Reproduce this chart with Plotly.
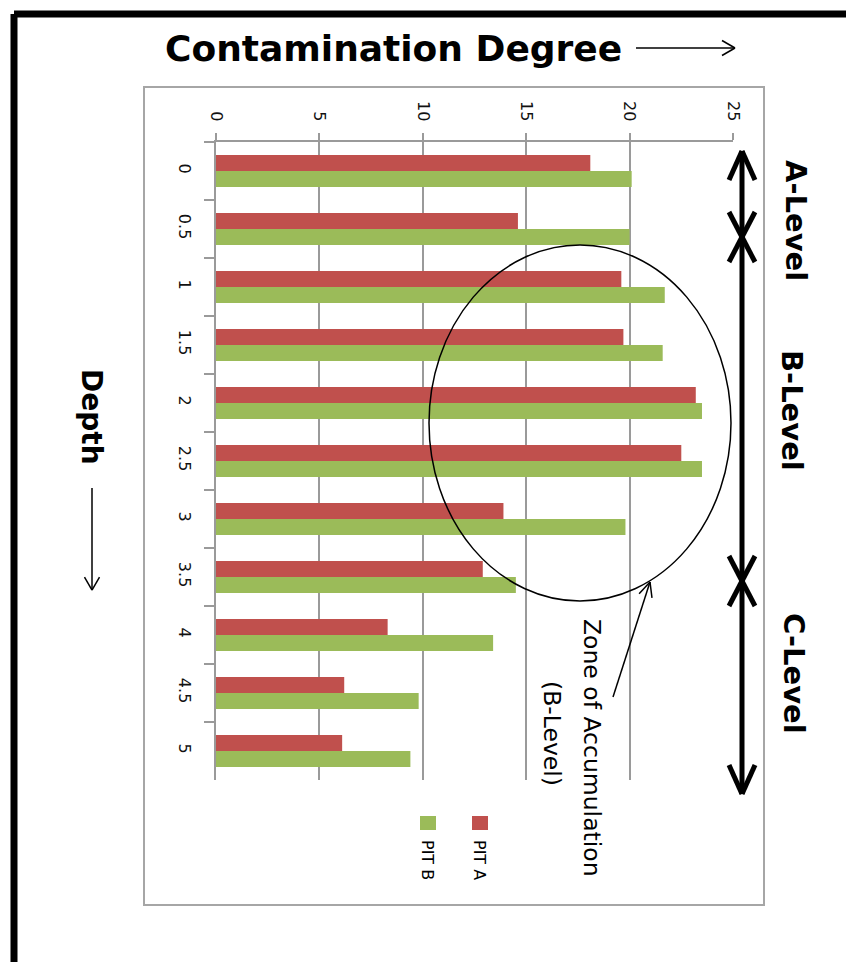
import math
import plotly.graph_objects as go

# Depth categories and contamination degree for the two pits
depth = ["0", "0.5", "1", "1.5", "2", "2.5", "3", "3.5", "4", "4.5", "5"]
pit_a = [18.1, 14.6, 19.6, 19.7, 23.2, 22.5, 13.9, 12.9, 8.3, 6.2, 6.1]
pit_b = [20.1, 20.0, 21.7, 21.6, 23.5, 23.5, 19.8, 14.5, 13.4, 9.8, 9.4]
series_names = ["PIT A", "PIT B"]
series_colors = ["#C0504D", "#9BBB59"]
value_ticks = [0, 5, 10, 15, 20, 25]

W, H = 846, 962
L, R, T, B = 216, 113, 142, 182
PW, PH = W - L - R, H - T - B

FONT = "DejaVu Sans"
GRID = "#9a9a9a"


def px(x):
    return (x - L) / PW


def py(y):
    return 1 - (y - T) / PH


def seg(x0, y0, x1, y1, width=1.5, color="black"):
    return dict(type="line", xref="paper", yref="paper",
                x0=px(x0), y0=py(y0), x1=px(x1), y1=py(y1),
                line=dict(color=color, width=width), layer="above")


def open_head(tx, ty, fx, fy, length=14, spread=28, width=1.5):
    """Two short strokes forming an open arrow head at (tx, ty),
    pointing away from (fx, fy)."""
    ang = math.atan2(fy - ty, fx - tx)
    out = []
    for s in (-1, 1):
        a = ang + s * math.radians(spread)
        out.append(seg(tx, ty, tx + length * math.cos(a), ty + length * math.sin(a), width))
    return out


fig = go.Figure()
for name, vals, col in zip(series_names, [pit_a, pit_b], series_colors):
    fig.add_trace(go.Bar(y=depth, x=vals, orientation="h", name=name,
                         marker=dict(color=col, line=dict(width=0))))

shapes = []
# chart area frame
shapes.append(dict(type="rect", xref="paper", yref="paper",
                   x0=px(144), x1=px(764), y0=py(87), y1=py(905),
                   line=dict(color="#a6a6a6", width=2), layer="below"))
# outer black frame (top and left edges)
shapes.append(seg(14, 14, 860, 14, width=7))
shapes.append(seg(14, 14, 14, 975, width=7))

# "Contamination Degree" arrow
shapes.append(seg(636, 48, 735, 48))
shapes += open_head(735, 48, 636, 48, length=15, spread=30)
# "Depth" arrow
shapes.append(seg(92, 488, 92, 590))
shapes += open_head(92, 590, 92, 488, length=15, spread=30)

# thick level scale on the right
shapes.append(seg(742, 151, 742, 794, width=5))
for tip, back in [(151, 180), (794, 765)]:
    shapes.append(seg(742, tip, 729, back, width=5))
    shapes.append(seg(742, tip, 755, back, width=5))
for yc in (237, 581):
    for dy in (-25, 25):
        shapes.append(seg(742, yc, 729, yc + dy, width=5))
        shapes.append(seg(742, yc, 755, yc + dy, width=5))

# zone of accumulation ellipse and pointer
shapes.append(dict(type="circle", xref="paper", yref="paper",
                   x0=px(429), x1=px(731), y0=py(245), y1=py(601),
                   line=dict(color="black", width=1.5), layer="above"))
shapes.append(seg(613, 697, 650, 582))
shapes += open_head(650, 582, 613, 697, length=16, spread=25)

# legend swatches
for xc, col in zip([480, 428], series_colors):
    shapes.append(dict(type="rect", xref="paper", yref="paper",
                       x0=px(xc - 8), x1=px(xc + 8), y0=py(816), y1=py(830),
                       line=dict(width=0), fillcolor=col, layer="above"))

annotations = [
    dict(text="<b>Contamination Degree</b>", x=px(163), y=py(48), xanchor="left",
         yanchor="middle", font=dict(family=FONT, size=36, color="black")),
    dict(text="<b>Depth</b>", x=px(92), y=py(417), textangle=90,
         font=dict(family=FONT, size=28, color="black")),
    dict(text="<b>A-Level</b>", x=px(796), y=py(220), textangle=90,
         font=dict(family=FONT, size=29, color="black")),
    dict(text="<b>B-Level</b>", x=px(792), y=py(410), textangle=90,
         font=dict(family=FONT, size=29, color="black")),
    dict(text="<b>C-Level</b>", x=px(794), y=py(673), textangle=90,
         font=dict(family=FONT, size=29, color="black")),
    dict(text="Zone of Accumulation", x=px(592), y=py(748), textangle=90,
         font=dict(family=FONT, size=23.5, color="black")),
    dict(text="(B-Level)", x=px(552), y=py(733), textangle=90,
         font=dict(family=FONT, size=23.5, color="black")),
]
for xc, name in zip([480, 428], series_names):
    annotations.append(dict(text=name, x=px(xc), y=py(860), textangle=90,
                            font=dict(family=FONT, size=16, color="black")))
for a in annotations:
    a.update(xref="paper", yref="paper", showarrow=False)
    a.setdefault("xanchor", "center")
    a.setdefault("yanchor", "middle")

fig.update_layout(
    width=W, height=H,
    margin=dict(l=L, r=R, t=T, b=B, pad=0),
    paper_bgcolor="white", plot_bgcolor="white",
    barmode="group", bargap=0.448, bargroupgap=0,
    showlegend=False,
    shapes=shapes, annotations=annotations,
    xaxis=dict(range=[0, 25], side="top", tickvals=value_ticks,
               ticktext=[str(v) for v in value_ticks],
               showgrid=True, gridcolor=GRID, gridwidth=2,
               showline=True, linecolor=GRID, linewidth=2,
               ticks="outside", ticklen=7, tickwidth=2, tickcolor=GRID,
               tickangle=90, zeroline=False, ticklabelstandoff=6,
               tickfont=dict(family=FONT, size=16, color="#111")),
    yaxis=dict(type="category", range=[10.5, -0.5],
               showgrid=False, zeroline=False,
               showline=True, linecolor=GRID, linewidth=2,
               ticks="outside", ticklen=10, tickwidth=2, tickcolor=GRID,
               tickson="boundaries", tickangle=90, ticklabelstandoff=16,
               tickfont=dict(family=FONT, size=16, color="#111")),
)

fig.write_html("out.html")
